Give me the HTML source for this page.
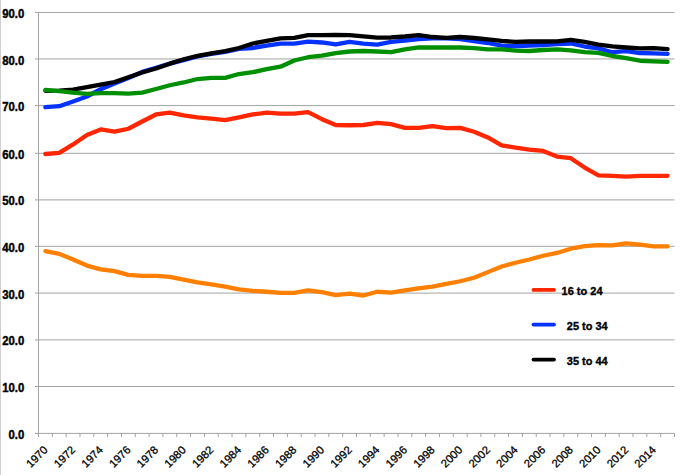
<!DOCTYPE html>
<html><head><meta charset="utf-8"><style>
html,body{margin:0;padding:0;background:#fff;}
body{width:700px;height:475px;overflow:hidden;position:relative;}
svg{position:absolute;left:0;top:0;}
.yl{font-family:"Liberation Sans",sans-serif;font-weight:bold;font-size:12.0px;fill:#000;stroke:#000;stroke-width:0.4px;}
.xl{font-family:"Liberation Sans",sans-serif;font-size:11.2px;fill:#000;stroke:#000;stroke-width:0.3px;}
.lg{font-family:"Liberation Sans",sans-serif;font-weight:bold;font-size:11.6px;fill:#000;stroke:#000;stroke-width:0.35px;}
</style></head><body>
<svg width="700" height="475" viewBox="0 0 700 475">
<rect x="0" y="0" width="700" height="475" fill="#fff"/>
<rect x="0" y="0" width="1" height="475" fill="#cfcfcf"/>
<line x1="35" y1="12.45" x2="674.5" y2="12.45" stroke="#a3a3a3" stroke-width="1"/>
<line x1="35" y1="58.95" x2="674.5" y2="58.95" stroke="#a3a3a3" stroke-width="1"/>
<line x1="35" y1="105.6" x2="674.5" y2="105.6" stroke="#a3a3a3" stroke-width="1"/>
<line x1="35" y1="153.3" x2="674.5" y2="153.3" stroke="#a3a3a3" stroke-width="1"/>
<line x1="35" y1="199.9" x2="674.5" y2="199.9" stroke="#a3a3a3" stroke-width="1"/>
<line x1="35" y1="246.35" x2="674.5" y2="246.35" stroke="#a3a3a3" stroke-width="1"/>
<line x1="35" y1="293.1" x2="674.5" y2="293.1" stroke="#a3a3a3" stroke-width="1"/>
<line x1="35" y1="339.9" x2="674.5" y2="339.9" stroke="#a3a3a3" stroke-width="1"/>
<line x1="35" y1="386.5" x2="674.5" y2="386.5" stroke="#a3a3a3" stroke-width="1"/>
<line x1="38.5" y1="12" x2="38.5" y2="433.4" stroke="#a3a3a3" stroke-width="1"/>
<line x1="35" y1="433.4" x2="674.5" y2="433.4" stroke="#a3a3a3" stroke-width="1"/>
<line x1="38.50" y1="433.4" x2="38.50" y2="437" stroke="#a3a3a3" stroke-width="1"/>
<line x1="52.33" y1="433.4" x2="52.33" y2="437" stroke="#a3a3a3" stroke-width="1"/>
<line x1="66.15" y1="433.4" x2="66.15" y2="437" stroke="#a3a3a3" stroke-width="1"/>
<line x1="79.98" y1="433.4" x2="79.98" y2="437" stroke="#a3a3a3" stroke-width="1"/>
<line x1="93.80" y1="433.4" x2="93.80" y2="437" stroke="#a3a3a3" stroke-width="1"/>
<line x1="107.63" y1="433.4" x2="107.63" y2="437" stroke="#a3a3a3" stroke-width="1"/>
<line x1="121.46" y1="433.4" x2="121.46" y2="437" stroke="#a3a3a3" stroke-width="1"/>
<line x1="135.28" y1="433.4" x2="135.28" y2="437" stroke="#a3a3a3" stroke-width="1"/>
<line x1="149.11" y1="433.4" x2="149.11" y2="437" stroke="#a3a3a3" stroke-width="1"/>
<line x1="162.93" y1="433.4" x2="162.93" y2="437" stroke="#a3a3a3" stroke-width="1"/>
<line x1="176.76" y1="433.4" x2="176.76" y2="437" stroke="#a3a3a3" stroke-width="1"/>
<line x1="190.59" y1="433.4" x2="190.59" y2="437" stroke="#a3a3a3" stroke-width="1"/>
<line x1="204.41" y1="433.4" x2="204.41" y2="437" stroke="#a3a3a3" stroke-width="1"/>
<line x1="218.24" y1="433.4" x2="218.24" y2="437" stroke="#a3a3a3" stroke-width="1"/>
<line x1="232.06" y1="433.4" x2="232.06" y2="437" stroke="#a3a3a3" stroke-width="1"/>
<line x1="245.89" y1="433.4" x2="245.89" y2="437" stroke="#a3a3a3" stroke-width="1"/>
<line x1="259.72" y1="433.4" x2="259.72" y2="437" stroke="#a3a3a3" stroke-width="1"/>
<line x1="273.54" y1="433.4" x2="273.54" y2="437" stroke="#a3a3a3" stroke-width="1"/>
<line x1="287.37" y1="433.4" x2="287.37" y2="437" stroke="#a3a3a3" stroke-width="1"/>
<line x1="301.19" y1="433.4" x2="301.19" y2="437" stroke="#a3a3a3" stroke-width="1"/>
<line x1="315.02" y1="433.4" x2="315.02" y2="437" stroke="#a3a3a3" stroke-width="1"/>
<line x1="328.85" y1="433.4" x2="328.85" y2="437" stroke="#a3a3a3" stroke-width="1"/>
<line x1="342.67" y1="433.4" x2="342.67" y2="437" stroke="#a3a3a3" stroke-width="1"/>
<line x1="356.50" y1="433.4" x2="356.50" y2="437" stroke="#a3a3a3" stroke-width="1"/>
<line x1="370.32" y1="433.4" x2="370.32" y2="437" stroke="#a3a3a3" stroke-width="1"/>
<line x1="384.15" y1="433.4" x2="384.15" y2="437" stroke="#a3a3a3" stroke-width="1"/>
<line x1="397.98" y1="433.4" x2="397.98" y2="437" stroke="#a3a3a3" stroke-width="1"/>
<line x1="411.80" y1="433.4" x2="411.80" y2="437" stroke="#a3a3a3" stroke-width="1"/>
<line x1="425.63" y1="433.4" x2="425.63" y2="437" stroke="#a3a3a3" stroke-width="1"/>
<line x1="439.45" y1="433.4" x2="439.45" y2="437" stroke="#a3a3a3" stroke-width="1"/>
<line x1="453.28" y1="433.4" x2="453.28" y2="437" stroke="#a3a3a3" stroke-width="1"/>
<line x1="467.11" y1="433.4" x2="467.11" y2="437" stroke="#a3a3a3" stroke-width="1"/>
<line x1="480.93" y1="433.4" x2="480.93" y2="437" stroke="#a3a3a3" stroke-width="1"/>
<line x1="494.76" y1="433.4" x2="494.76" y2="437" stroke="#a3a3a3" stroke-width="1"/>
<line x1="508.58" y1="433.4" x2="508.58" y2="437" stroke="#a3a3a3" stroke-width="1"/>
<line x1="522.41" y1="433.4" x2="522.41" y2="437" stroke="#a3a3a3" stroke-width="1"/>
<line x1="536.24" y1="433.4" x2="536.24" y2="437" stroke="#a3a3a3" stroke-width="1"/>
<line x1="550.06" y1="433.4" x2="550.06" y2="437" stroke="#a3a3a3" stroke-width="1"/>
<line x1="563.89" y1="433.4" x2="563.89" y2="437" stroke="#a3a3a3" stroke-width="1"/>
<line x1="577.71" y1="433.4" x2="577.71" y2="437" stroke="#a3a3a3" stroke-width="1"/>
<line x1="591.54" y1="433.4" x2="591.54" y2="437" stroke="#a3a3a3" stroke-width="1"/>
<line x1="605.37" y1="433.4" x2="605.37" y2="437" stroke="#a3a3a3" stroke-width="1"/>
<line x1="619.19" y1="433.4" x2="619.19" y2="437" stroke="#a3a3a3" stroke-width="1"/>
<line x1="633.02" y1="433.4" x2="633.02" y2="437" stroke="#a3a3a3" stroke-width="1"/>
<line x1="646.84" y1="433.4" x2="646.84" y2="437" stroke="#a3a3a3" stroke-width="1"/>
<line x1="660.67" y1="433.4" x2="660.67" y2="437" stroke="#a3a3a3" stroke-width="1"/>
<line x1="674.50" y1="433.4" x2="674.50" y2="437" stroke="#a3a3a3" stroke-width="1"/>
<text x="24.3" y="18.00" text-anchor="end" class="yl" textLength="22.09" lengthAdjust="spacingAndGlyphs">90.0</text>
<text x="24.3" y="64.50" text-anchor="end" class="yl" textLength="22.09" lengthAdjust="spacingAndGlyphs">80.0</text>
<text x="24.3" y="111.15" text-anchor="end" class="yl" textLength="22.09" lengthAdjust="spacingAndGlyphs">70.0</text>
<text x="24.3" y="158.85" text-anchor="end" class="yl" textLength="22.09" lengthAdjust="spacingAndGlyphs">60.0</text>
<text x="24.3" y="205.45" text-anchor="end" class="yl" textLength="22.09" lengthAdjust="spacingAndGlyphs">50.0</text>
<text x="24.3" y="251.90" text-anchor="end" class="yl" textLength="22.09" lengthAdjust="spacingAndGlyphs">40.0</text>
<text x="24.3" y="298.65" text-anchor="end" class="yl" textLength="22.09" lengthAdjust="spacingAndGlyphs">30.0</text>
<text x="24.3" y="345.45" text-anchor="end" class="yl" textLength="22.09" lengthAdjust="spacingAndGlyphs">20.0</text>
<text x="24.3" y="392.05" text-anchor="end" class="yl" textLength="22.09" lengthAdjust="spacingAndGlyphs">10.0</text>
<text x="24.3" y="438.95" text-anchor="end" class="yl" textLength="15.78" lengthAdjust="spacingAndGlyphs">0.0</text>
<text transform="translate(48.36,450.6) rotate(-45)" text-anchor="end" class="xl">1970</text>
<text transform="translate(76.01,450.6) rotate(-45)" text-anchor="end" class="xl">1972</text>
<text transform="translate(103.66,450.6) rotate(-45)" text-anchor="end" class="xl">1974</text>
<text transform="translate(131.32,450.6) rotate(-45)" text-anchor="end" class="xl">1976</text>
<text transform="translate(158.97,450.6) rotate(-45)" text-anchor="end" class="xl">1978</text>
<text transform="translate(186.62,450.6) rotate(-45)" text-anchor="end" class="xl">1980</text>
<text transform="translate(214.27,450.6) rotate(-45)" text-anchor="end" class="xl">1982</text>
<text transform="translate(241.92,450.6) rotate(-45)" text-anchor="end" class="xl">1984</text>
<text transform="translate(269.58,450.6) rotate(-45)" text-anchor="end" class="xl">1986</text>
<text transform="translate(297.23,450.6) rotate(-45)" text-anchor="end" class="xl">1988</text>
<text transform="translate(324.88,450.6) rotate(-45)" text-anchor="end" class="xl">1990</text>
<text transform="translate(352.53,450.6) rotate(-45)" text-anchor="end" class="xl">1992</text>
<text transform="translate(380.18,450.6) rotate(-45)" text-anchor="end" class="xl">1994</text>
<text transform="translate(407.84,450.6) rotate(-45)" text-anchor="end" class="xl">1996</text>
<text transform="translate(435.49,450.6) rotate(-45)" text-anchor="end" class="xl">1998</text>
<text transform="translate(463.14,450.6) rotate(-45)" text-anchor="end" class="xl">2000</text>
<text transform="translate(490.79,450.6) rotate(-45)" text-anchor="end" class="xl">2002</text>
<text transform="translate(518.44,450.6) rotate(-45)" text-anchor="end" class="xl">2004</text>
<text transform="translate(546.10,450.6) rotate(-45)" text-anchor="end" class="xl">2006</text>
<text transform="translate(573.75,450.6) rotate(-45)" text-anchor="end" class="xl">2008</text>
<text transform="translate(601.40,450.6) rotate(-45)" text-anchor="end" class="xl">2010</text>
<text transform="translate(629.05,450.6) rotate(-45)" text-anchor="end" class="xl">2012</text>
<text transform="translate(656.70,450.6) rotate(-45)" text-anchor="end" class="xl">2014</text>
<polyline points="45.41,154.00 59.24,152.83 73.06,144.41 86.89,135.06 100.71,129.44 114.54,131.55 128.37,128.74 142.19,121.49 156.02,114.47 169.84,112.60 183.67,115.41 197.50,117.28 211.32,118.68 225.15,120.09 238.97,117.28 252.80,114.47 266.63,112.60 280.45,113.54 294.28,113.54 308.10,112.14 321.93,119.15 335.76,125.00 349.58,125.23 363.41,125.00 377.23,122.89 391.06,124.06 404.89,127.81 418.71,127.81 432.54,126.17 446.36,128.04 460.19,127.81 474.02,131.78 487.84,137.40 501.67,145.35 515.49,147.69 529.32,149.56 543.15,150.96 556.97,156.57 570.80,158.21 584.62,167.57 598.45,175.29 612.28,175.85 626.10,176.60 639.93,175.85 653.75,175.85 667.58,175.85" fill="none" stroke="#ff2600" stroke-width="4.3" stroke-linejoin="round" stroke-linecap="round"/>
<polyline points="45.41,107.22 59.24,106.19 73.06,101.52 86.89,96.51 100.71,89.21 114.54,83.60 128.37,77.99 142.19,71.91 156.02,67.70 169.84,63.67 183.67,60.21 197.50,56.47 211.32,53.99 225.15,51.98 238.97,48.98 252.80,48.00 266.63,45.71 280.45,43.61 294.28,43.70 308.10,41.69 321.93,42.48 335.76,44.49 349.58,41.97 363.41,43.70 377.23,44.59 391.06,41.97 404.89,40.71 418.71,39.02 432.54,38.23 446.36,38.32 460.19,39.02 474.02,41.22 487.84,43.00 501.67,45.71 515.49,46.27 529.32,45.52 543.15,45.01 556.97,44.21 570.80,43.51 584.62,46.51 598.45,48.38 612.28,52.21 626.10,51.09 639.93,53.01 653.75,53.29 667.58,53.90" fill="none" stroke="#0433ff" stroke-width="4.3" stroke-linejoin="round" stroke-linecap="round"/>
<polyline points="45.41,90.80 59.24,90.71 73.06,89.68 86.89,87.11 100.71,84.54 114.54,82.01 128.37,77.29 142.19,72.51 156.02,68.44 169.84,63.67 183.67,59.28 197.50,55.91 211.32,53.29 225.15,51.09 238.97,48.00 252.80,43.51 266.63,40.89 280.45,38.32 294.28,37.90 308.10,35.19 321.93,35.09 335.76,35.00 349.58,35.09 363.41,36.31 377.23,37.62 391.06,37.48 404.89,36.50 418.71,35.19 432.54,37.01 446.36,37.80 460.19,37.01 474.02,37.99 487.84,39.30 501.67,40.80 515.49,41.97 529.32,41.50 543.15,41.50 556.97,41.31 570.80,39.91 584.62,41.97 598.45,44.68 612.28,46.41 626.10,47.49 639.93,48.28 653.75,48.10 667.58,49.17" fill="none" stroke="#000000" stroke-width="4.3" stroke-linejoin="round" stroke-linecap="round"/>
<polyline points="45.41,90.01 59.24,91.18 73.06,92.68 86.89,93.89 100.71,93.19 114.54,93.19 128.37,93.70 142.19,92.68 156.02,88.98 169.84,85.24 183.67,82.48 197.50,79.02 211.32,77.89 225.15,77.89 238.97,74.01 252.80,72.19 266.63,69.19 280.45,66.71 294.28,60.49 308.10,57.22 321.93,55.53 335.76,53.10 349.58,51.51 363.41,51.00 377.23,51.51 391.06,52.21 404.89,49.31 418.71,47.49 432.54,47.49 446.36,47.49 460.19,47.49 474.02,48.19 487.84,49.31 501.67,49.31 515.49,50.72 529.32,51.00 543.15,50.01 556.97,49.31 570.80,50.29 584.62,52.21 598.45,52.82 612.28,56.00 626.10,58.11 639.93,60.73 653.75,61.29 667.58,61.80" fill="none" stroke="#008f00" stroke-width="4.3" stroke-linejoin="round" stroke-linecap="round"/>
<polyline points="45.41,251.07 59.24,253.87 73.06,259.49 86.89,265.57 100.71,269.31 114.54,271.18 128.37,274.92 142.19,275.86 156.02,275.86 169.84,276.79 183.67,279.60 197.50,282.41 211.32,284.28 225.15,286.62 238.97,289.42 252.80,290.83 266.63,291.76 280.45,292.93 294.28,292.93 308.10,290.36 321.93,292.23 335.76,295.04 349.58,293.63 363.41,295.50 377.23,291.76 391.06,292.70 404.89,290.36 418.71,288.49 432.54,286.62 446.36,283.81 460.19,281.24 474.02,277.73 487.84,272.12 501.67,266.50 515.49,262.76 529.32,259.49 543.15,255.74 556.97,252.94 570.80,248.73 584.62,246.15 598.45,245.22 612.28,245.45 626.10,243.35 639.93,244.52 653.75,246.39 667.58,246.39" fill="none" stroke="#ff7f00" stroke-width="4.3" stroke-linejoin="round" stroke-linecap="round"/>
<line x1="533.5" y1="289.9" x2="554" y2="289.9" stroke="#ff2600" stroke-width="3.8" stroke-linecap="round"/>
<text x="561.6" y="294.90" class="lg" textLength="40.9" lengthAdjust="spacingAndGlyphs">16 to 24</text>
<line x1="533.5" y1="324.6" x2="554" y2="324.6" stroke="#0433ff" stroke-width="3.8" stroke-linecap="round"/>
<text x="566.8" y="329.60" class="lg" textLength="40.9" lengthAdjust="spacingAndGlyphs">25 to 34</text>
<line x1="533.5" y1="359.6" x2="554" y2="359.6" stroke="#000000" stroke-width="3.8" stroke-linecap="round"/>
<text x="566.8" y="364.60" class="lg" textLength="40.9" lengthAdjust="spacingAndGlyphs">35 to 44</text>
</svg>
</body></html>
